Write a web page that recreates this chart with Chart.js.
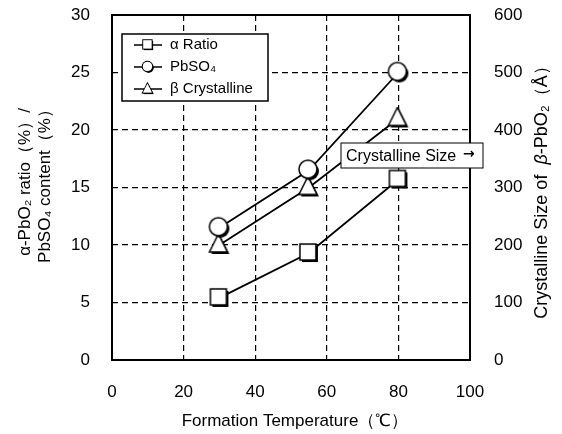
<!DOCTYPE html>
<html>
<head>
<meta charset="utf-8">
<script src="https://cdn.jsdelivr.net/npm/chart.js@4.4.1/dist/chart.umd.min.js"></script>
<style>
  body{margin:0;background:#fff;}
  #wrap{width:562px;height:434px;}
</style>
</head>
<body>
<div id="wrap"><canvas id="myChart" width="562" height="434"></canvas></div>
<script>
// data
const temps=[30,55,80];
const alphaRatio=[5.4,9.3,15.7];
const pbso4=[11.5,16.5,25.0];
const betaSize=[200,300,420];
const xTicks=[0,20,40,60,80,100];

const FONT='"Liberation Sans", Arial, sans-serif';

// marker images with a black drop shadow
function makeMarker(kind){
    const c=document.createElement('canvas');
    c.width=24;c.height=24;
    const g=c.getContext('2d');
    function path(ox,oy){
        g.beginPath();
        if(kind==='square'){g.rect(3+ox,3+oy,16,16);}
        else if(kind==='circle'){g.arc(11+ox,11+oy,9,0,Math.PI*2);}
        else{g.moveTo(11+ox,1+oy);g.lineTo(20+ox,19+oy);g.lineTo(2+ox,19+oy);g.closePath();}
    }
    path(2,2);g.fillStyle='#000';g.fill();
    path(0,0);g.fillStyle='#fff';g.fill();g.lineWidth=1.5;g.strokeStyle='#000';g.stroke();
    return c;
}
const sq=makeMarker('square'),ci=makeMarker('circle'),tr=makeMarker('tri');

function pts(xs,ys){return xs.map((x,i)=>({x:x,y:ys[i]}));}

const frameAndNotes={
    id:'frameAndNotes',
    afterDraw(chart){
        const ctx=chart.ctx,a=chart.chartArea;
        ctx.save();
        ctx.setLineDash([]);
        ctx.strokeStyle='#000';ctx.lineWidth=2;
        ctx.strokeRect(a.left,a.top,a.right-a.left,a.bottom-a.top);

        // legend box
        const lx=a.left+10,ly=a.top+19,lw=146,lh=67;
        ctx.fillStyle='#fff';ctx.fillRect(lx,ly,lw,lh);
        ctx.lineWidth=1.5;ctx.strokeRect(lx,ly,lw,lh);
        const items=[['α Ratio',sq],['PbSO₄',ci],['β Crystalline',tr]];
        ctx.font='15px '+FONT;ctx.textBaseline='middle';ctx.fillStyle='#000';
        items.forEach((it,i)=>{
            const yy=ly+11+i*22;
            ctx.beginPath();ctx.moveTo(lx+12,yy);ctx.lineTo(lx+40,yy);ctx.lineWidth=1.5;ctx.stroke();
            ctx.drawImage(it[1],lx+26-7,yy-7,14,14);
            ctx.fillText(it[0],lx+48,yy);
        });

        // crystalline size note
        const nx=a.left+229,ny=a.top+128,nw=142,nh=25;
        ctx.fillStyle='#fff';ctx.fillRect(nx,ny,nw,nh);
        ctx.lineWidth=1;ctx.strokeRect(nx,ny,nw,nh);
        ctx.fillStyle='#000';ctx.font='16px '+FONT;
        ctx.fillText('Crystalline Size',nx+5,ny+nh/2+1);
        ctx.font='bold 14px "DejaVu Sans", sans-serif';
        ctx.fillText('→',nx+122,ny+nh/2-1);

        // axis titles
        ctx.textAlign='center';
        ctx.font='17px '+FONT;
        ctx.fillText('Formation Temperature（℃）',295,421);

        ctx.save();
        ctx.font='17px '+FONT;
        ctx.translate(25,182);ctx.rotate(-Math.PI/2);
        ctx.fillText('α-PbO₂ ratio（%）/',0,0);
        ctx.fillText('PbSO₄ content（%）',0,20);
        ctx.restore();

        // right title with italic beta
        ctx.save();
        ctx.translate(542,188);ctx.rotate(-Math.PI/2);
        ctx.textAlign='left';
        const parts=[['Crystalline Size of  ','18px '],['β','italic 18px '],['-PbO₂（Å）','18px ']];
        let w=0;
        parts.forEach(p=>{ctx.font=p[1]+FONT;w+=ctx.measureText(p[0]).width;});
        let x0=-w/2;
        parts.forEach(p=>{ctx.font=p[1]+FONT;ctx.fillText(p[0],x0,0);x0+=ctx.measureText(p[0]).width;});
        ctx.restore();
        ctx.restore();
    }
};

new Chart(document.getElementById('myChart'),{
    type:'scatter',
    data:{
        datasets:[
            {label:'α Ratio',data:pts(temps,alphaRatio),yAxisID:'y',pointStyle:sq,showLine:true,borderColor:'#000',borderWidth:1.8},
            {label:'PbSO₄',data:pts(temps,pbso4),yAxisID:'y',pointStyle:ci,showLine:true,borderColor:'#000',borderWidth:1.8},
            {label:'β Crystalline',data:pts(temps,betaSize),yAxisID:'y2',pointStyle:tr,showLine:true,borderColor:'#000',borderWidth:1.8}
        ]
    },
    options:{
        responsive:false,
        animation:false,
        layout:{padding:{left:0,right:0,top:15,bottom:0}},
        plugins:{legend:{display:false},tooltip:{enabled:false}},
        scales:{
            x:{
                type:'linear',min:0,max:100,
                afterBuildTicks:(s)=>{s.ticks=xTicks.map(v=>({value:v}));},
                afterFit:(s)=>{s.height=74;s.paddingLeft=0;s.paddingRight=0;},
                grid:{color:'#000',lineWidth:1.2,drawTicks:false},
                border:{display:false,dash:[6,4]},
                ticks:{color:'#000',font:{family:FONT,size:17},padding:22}
            },
            y:{
                position:'left',min:0,max:30,
                afterFit:(s)=>{s.width=112;s.paddingTop=0;s.paddingBottom=0;},
                grid:{color:'#000',lineWidth:1.2,drawTicks:false},
                border:{display:false,dash:[6,4]},
                ticks:{stepSize:5,color:'#000',font:{family:FONT,size:17},padding:22}
            },
            y2:{
                position:'right',min:0,max:600,
                afterFit:(s)=>{s.width=92;s.paddingTop=0;s.paddingBottom=0;},
                grid:{display:false},
                border:{display:false},
                ticks:{stepSize:100,color:'#000',font:{family:FONT,size:17},padding:16}
            }
        }
    },
    plugins:[frameAndNotes]
});
</script>
</body>
</html>
